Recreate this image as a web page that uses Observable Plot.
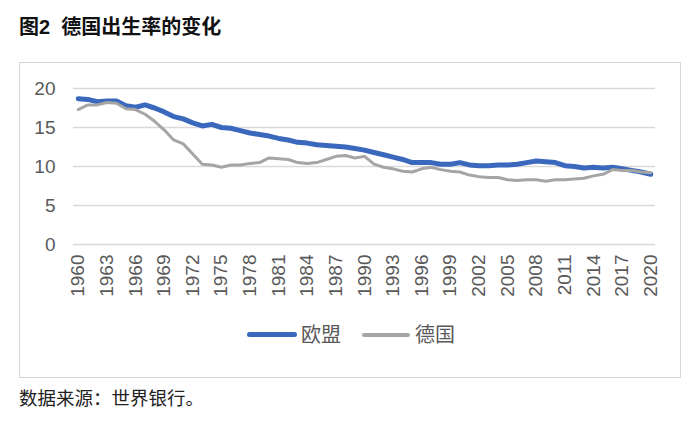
<!DOCTYPE html>
<html><head><meta charset="utf-8">
<script src="https://cdn.jsdelivr.net/npm/d3@7"></script>
<script src="https://cdn.jsdelivr.net/npm/@observablehq/plot@0.6"></script>
<style>
body{margin:0;background:#fff;width:700px;height:431px;position:relative;overflow:hidden;font-family:"Liberation Sans","Noto Sans CJK SC",sans-serif;}
#title{position:absolute;left:19px;top:12px;font-size:20px;font-weight:bold;color:#111;font-family:"Liberation Sans","Noto Sans CJK SC",sans-serif;white-space:pre;line-height:30px;}
#box{position:absolute;left:19px;top:62px;width:662px;height:316px;border:1.5px solid #d6d6d6;box-sizing:border-box;}
#chart{position:absolute;left:0;top:0;}
.lg-line{position:absolute;border-radius:3px;}
.lg-text{position:absolute;font-family:"Noto Sans CJK SC",sans-serif;font-size:20px;color:#595959;line-height:24px;}
#caption{position:absolute;left:19px;top:384px;font-family:"Noto Sans CJK SC",serif;font-size:18.5px;color:#222;line-height:26px;}
</style></head>
<body>
<div id="title">图2  德国出生率的变化</div>
<div id="box"></div>
<div id="chart"></div>
<div class="lg-line" style="left:247px;top:332px;width:50px;height:5px;background:#3a68bd;"></div>
<div class="lg-text" style="left:301px;top:322px;">欧盟</div>
<div class="lg-line" style="left:362px;top:333px;width:48px;height:4px;background:#a5a5a5;"></div>
<div class="lg-text" style="left:415px;top:322px;">德国</div>
<div id="caption">数据来源：世界银行。</div>
<script>
const years = d3.range(1960, 2021);
const eu = [18.7,18.6,18.3,18.4,18.4,17.8,17.6,17.9,17.5,17.0,16.4,16.1,15.6,15.2,15.4,15.0,14.9,14.6,14.3,14.1,13.9,13.6,13.4,13.1,13.0,12.8,12.7,12.6,12.5,12.3,12.1,11.8,11.5,11.2,10.9,10.5,10.5,10.5,10.3,10.3,10.5,10.2,10.1,10.1,10.2,10.2,10.3,10.5,10.7,10.6,10.5,10.1,10.0,9.8,9.9,9.8,9.9,9.7,9.5,9.3,9.0];
const de = [17.3,17.9,17.9,18.2,18.1,17.4,17.3,16.7,15.8,14.7,13.4,12.9,11.6,10.3,10.2,9.9,10.2,10.2,10.4,10.5,11.1,11.0,10.9,10.5,10.4,10.5,10.9,11.3,11.4,11.1,11.3,10.3,9.9,9.7,9.4,9.3,9.7,9.9,9.6,9.4,9.3,8.9,8.7,8.6,8.6,8.3,8.2,8.3,8.3,8.1,8.3,8.3,8.4,8.5,8.8,9.0,9.6,9.5,9.5,9.3,9.2];
const xTicks = [1960,1963,1966,1969,1972,1975,1978,1981,1984,1987,1990,1993,1996,1999,2002,2005,2008,2011,2014,2017,2020];
const yTicks = [0,5,10,15,20];

const rows = years.map((y,i)=>({year:y, eu:eu[i], de:de[i]}));

const chart = Plot.plot({
  width:700, height:310,
  marginTop:88, marginBottom:66, marginLeft:73, marginRight:45,
  style:{fontFamily:"Liberation Sans, Arial, sans-serif", fontSize:"19px", color:"#595959", background:"transparent", overflow:"visible"},
  x:{domain:[1959.5,2020.5], label:null},
  y:{domain:[0,20], label:null},
  marks:[
    Plot.gridY(yTicks,{stroke:"#d9d9d9", strokeOpacity:1, strokeWidth:1.5}),
    Plot.axisY(yTicks,{tickSize:0, tickPadding:18, fontSize:19, fill:"#595959", label:null}),
    Plot.axisX(xTicks,{tickSize:0, tickRotate:-90, tickPadding:10, fontSize:19, fill:"#595959", label:null, tickFormat:d=>String(d)}),
    Plot.lineY(rows,{x:"year", y:"eu", stroke:"#3a68bd", strokeWidth:5, strokeLinejoin:"round", strokeLinecap:"round"}),
    Plot.lineY(rows,{x:"year", y:"de", stroke:"#a5a5a5", strokeWidth:3, strokeLinejoin:"round", strokeLinecap:"round"})
  ]
});
document.getElementById("chart").appendChild(chart);
</script>
</body></html>
